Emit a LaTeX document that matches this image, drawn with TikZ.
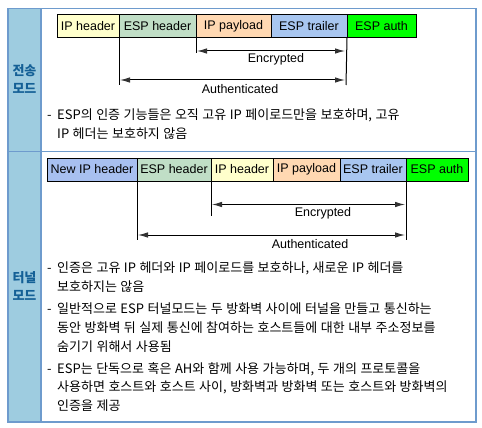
\documentclass[tikz,border=0pt]{standalone}
\usepackage{fontspec}
\setmainfont{Liberation Sans}
\newfontfamily\kr[WordSpace=1.2]{Noto Sans CJK KR}
\usetikzlibrary{arrows.meta}
\definecolor{frameblue}{RGB}{110,155,205}
\definecolor{leftfill}{RGB}{158,204,224}
\definecolor{labblue}{RGB}{20,96,150}
\definecolor{cIPh}{RGB}{255,255,204}
\definecolor{cESPh}{RGB}{192,222,198}
\definecolor{cPay}{RGB}{255,216,178}
\definecolor{cTrl}{RGB}{168,198,240}
\definecolor{cNew}{RGB}{168,192,240}
\definecolor{cAuth}{RGB}{0,255,0}
\definecolor{tipgray}{RGB}{50,50,50}
\begin{document}
\begin{tikzpicture}[x=1pt,y=-1pt,
  pbox/.style={draw=black, line width=1pt, minimum height=23pt, inner sep=0pt, outer sep=0pt,
               anchor=north west, font=\fontsize{12.5}{14}\selectfont},
  vline/.style={line width=1pt},
  arr/.style={line width=1pt, {Latex[length=10pt,width=5.5pt,color=tipgray]}-{Latex[length=10pt,width=5.5pt,color=tipgray]}},
  alab/.style={font=\fontsize{12.5}{14}\selectfont, inner sep=0pt},
  txt/.style={anchor=base west, inner sep=0pt, font=\kr\fontsize{13}{14}\selectfont},
  lab/.style={align=center, inner sep=0pt, text=labblue, font=\kr\bfseries\fontsize{13}{18}\selectfont}
]
\useasboundingbox (0,0) rectangle (482,428);
% frame
\fill[leftfill] (8,8.7) rectangle (41,422);
\draw[frameblue, line width=1.2pt] (8,8.7) rectangle (476,422);
\draw[frameblue, line width=1.2pt] (41,8.7) -- (41,422);
\draw[frameblue, line width=1.2pt] (8,151.3) -- (476,151.3);
\node[lab] (m1) at (24.5,79.5) {전송\\모드};
\node[lab] (m2) at (24.5,286) {터널\\모드};

% transport mode packet
\node[pbox, fill=cIPh, minimum width=62pt] (a1) at (57,15) {IP header};
\node[pbox, fill=cESPh, minimum width=77pt] (a2) at (a1.north east) {ESP header};
\node[pbox, fill=cPay, minimum width=75pt] (a3) at (a2.north east) {IP payload};
\node[pbox, fill=cTrl, minimum width=76pt] (a4) at (a3.north east) {ESP trailer};
\node[pbox, fill=cAuth, minimum width=69pt] (a5) at (a4.north east) {ESP auth};
\coordinate (av1) at (119,85);
\coordinate (av2) at (196,53.5);
\coordinate (av3) at (346,85);
\draw[vline] (a2.south west) -- (av1);
\draw[vline] (a3.south west) -- (av2);
\draw[vline] (a5.south west) -- (av3);
\coordinate (ae1) at (197,51);
\coordinate (ae2) at (345,51);
\coordinate (aa1) at (120,80);
\coordinate (aa2) at (345,80);
\draw[arr] (ae1) -- (ae2);
\draw[arr] (aa1) -- (aa2);
\node[alab] (ael) at (276,59.5) {Encrypted};
\node[alab] (aal) at (240,89.5) {Authenticated};
\node[txt] (d1) at (47,119) {-};
\node[txt] (t1) at (57,119) {ESP의 인증 기능들은 오직 고유 IP 페이로드만을 보호하며, 고유};
\node[txt] (t2) at (57,138) {IP 헤더는 보호하지 않음};

% tunnel mode packet
\node[pbox, fill=cNew, minimum width=90pt] (b1) at (47,158) {New IP header};
\node[pbox, fill=cESPh, minimum width=74pt] (b2) at (b1.north east) {ESP header};
\node[pbox, fill=cIPh, minimum width=62pt] (b3) at (b2.north east) {IP header};
\node[pbox, fill=cPay, minimum width=67pt] (b4) at (b3.north east) {IP payload};
\node[pbox, fill=cTrl, minimum width=66pt] (b5) at (b4.north east) {ESP trailer};
\node[pbox, fill=cAuth, minimum width=62pt] (b6) at (b5.north east) {ESP auth};
\coordinate (bv1) at (137,240);
\coordinate (bv2) at (211,215.5);
\coordinate (bv3) at (406,240);
\draw[vline] (b2.south west) -- (bv1);
\draw[vline] (b3.south west) -- (bv2);
\draw[vline] (b6.south west) -- (bv3);
\coordinate (be1) at (212,204.5);
\coordinate (be2) at (405,204.5);
\coordinate (ba1) at (138,235);
\coordinate (ba2) at (405,235);
\draw[arr] (be1) -- (be2);
\draw[arr] (ba1) -- (ba2);
\node[alab] (bel) at (323,213) {Encrypted};
\node[alab] (bal) at (310,244) {Authenticated};
\node[txt] (d2) at (47,272) {-};
\node[txt] (u1) at (57,272) {인증은 고유 IP 헤더와 IP 페이로드를 보호하나, 새로운 IP 헤더를};
\node[txt] (u2) at (57,291) {보호하지는 않음};
\node[txt] (d3) at (47,313) {-};
\node[txt] (u3) at (57,313) {일반적으로 ESP 터널모드는 두 방화벽 사이에 터널을 만들고 통신하는};
\node[txt] (u4) at (57,332) {동안 방화벽 뒤 실제 통신에 참여하는 호스트들에 대한 내부 주소정보를};
\node[txt] (u5) at (57,351) {숨기기 위해서 사용됨};
\node[txt] (d4) at (47,373) {-};
\node[txt] (u6) at (57,373) {ESP는 단독으로 혹은 AH와 함께 사용 가능하며, 두 개의 프로토콜을};
\node[txt] (u7) at (57,391) {사용하면 호스트와 호스트 사이, 방화벽과 방화벽 또는 호스트와 방화벽의};
\node[txt] (u8) at (57,410) {인증을 제공};
\end{tikzpicture}
\end{document}
